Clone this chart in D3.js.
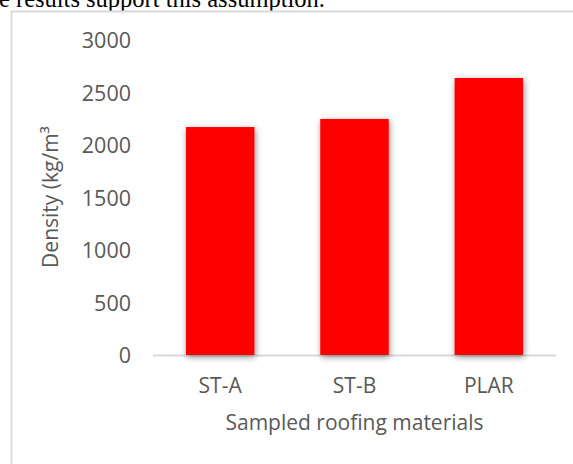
<!DOCTYPE html>
<html>
<head>
<meta charset="utf-8">
<script src="https://cdn.jsdelivr.net/npm/d3@7"></script>
<style>
  html, body { margin: 0; padding: 0; background: #fff; }
  svg { display: block; }
</style>
</head>
<body>
<script>
// Density of the sampled roofing materials
const categories = ["ST-A", "ST-B", "PLAR"];
const densities = [2171, 2248, 2638];
const yTicks = [0, 500, 1000, 1500, 2000, 2500, 3000];

const W = 573, H = 464;
const plot = { left: 153, right: 556, top: 40, bottom: 355 };
const textColor = "#595959";
const font = "'Open Sans', sans-serif";

const svg = d3.select("body").append("svg")
  .attr("width", W).attr("height", H);

const defs = svg.append("defs");
const shadow = defs.append("filter").attr("id", "barShadow")
  .attr("x", "-30%").attr("y", "-10%").attr("width", "160%").attr("height", "130%");
shadow.append("feDropShadow")
  .attr("dx", 1).attr("dy", 2).attr("stdDeviation", 3)
  .attr("flood-color", "#000").attr("flood-opacity", 0.45);

// Running text above the figure
svg.append("text")
  .attr("x", -1).attr("y", 7)
  .attr("font-family", "'Liberation Serif', 'Times New Roman', serif")
  .attr("font-size", 24.5).attr("fill", "#000")
  .text("e results support this assumption.");

// Chart frame
svg.append("path")
  .attr("d", `M11.5,${H} V11.5 H${W}`)
  .attr("fill", "none").attr("stroke", "#d9d9d9").attr("stroke-width", 1.8);

const x = d3.scaleBand().domain(categories)
  .range([plot.left, plot.right]).paddingInner(0.49).paddingOuter(0.245);
const y = d3.scaleLinear().domain([0, 3000]).range([plot.bottom, plot.top]);

// Value axis labels
const yAxis = svg.append("g")
  .attr("transform", `translate(131,0)`)
  .call(d3.axisLeft(y).tickValues(yTicks).tickSize(0).tickPadding(0).tickFormat(d3.format("d")));
yAxis.select(".domain").remove();
yAxis.selectAll("text")
  .attr("font-family", font).attr("font-size", 21.5).attr("fill", textColor)
  .attr("dy", "0.35em");

// Category baseline
svg.append("line")
  .attr("x1", plot.left).attr("x2", plot.right)
  .attr("y1", y(0) + 0.5).attr("y2", y(0) + 0.5)
  .attr("stroke", "#d9d9d9").attr("stroke-width", 2);

// Bars
svg.append("g").selectAll("rect")
  .data(categories.map((c, i) => ({ c, v: densities[i] })))
  .join("rect")
  .attr("x", d => x(d.c))
  .attr("y", d => y(d.v))
  .attr("width", x.bandwidth())
  .attr("height", d => y(0) - y(d.v))
  .attr("fill", "#ff0000")
  .attr("filter", "url(#barShadow)");

// Category axis labels
const xAxis = svg.append("g")
  .attr("transform", `translate(0,${plot.bottom})`)
  .call(d3.axisBottom(x).tickSize(0).tickPadding(0));
xAxis.select(".domain").remove();
xAxis.selectAll("text")
  .attr("font-family", font).attr("font-size", 21).attr("fill", textColor)
  .attr("dy", null).attr("y", 38);

// Axis titles
svg.append("text")
  .attr("x", (plot.left + plot.right) / 2).attr("y", 430)
  .attr("text-anchor", "middle")
  .attr("font-family", font).attr("font-size", 21).attr("fill", textColor)
  .text("Sampled roofing materials");

svg.append("text")
  .attr("transform", `translate(58,${(plot.top + plot.bottom) / 2 - 0.5}) rotate(-90)`)
  .attr("text-anchor", "middle")
  .attr("font-family", font).attr("font-size", 21).attr("fill", textColor)
  .text("Density (kg/m³");
</script>
</body>
</html>
